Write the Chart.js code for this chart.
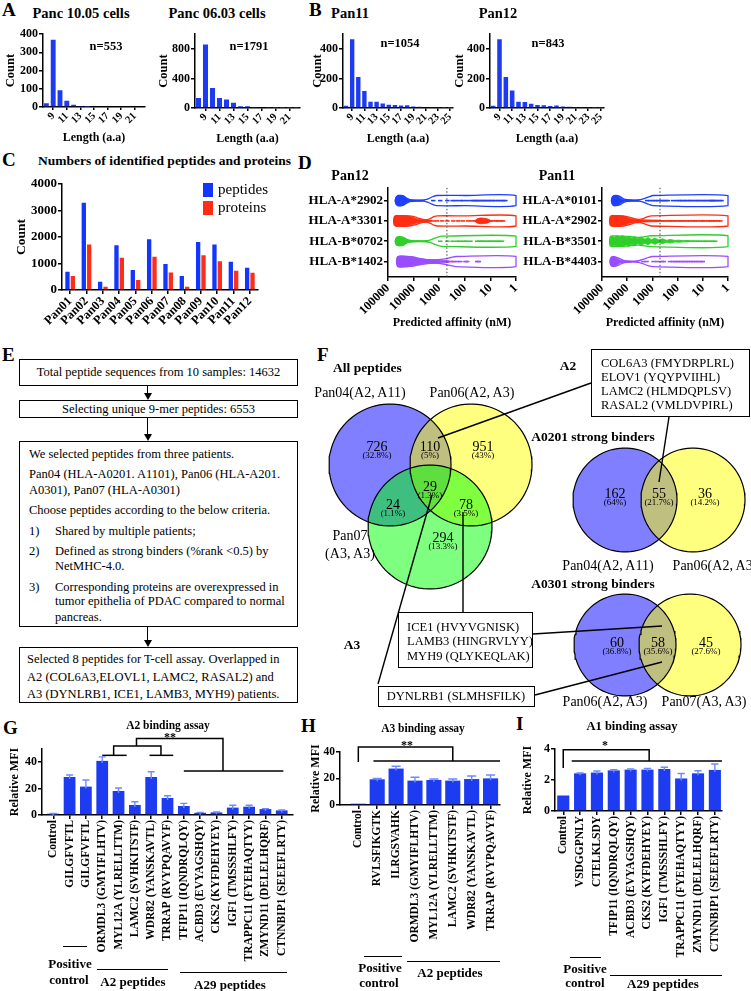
<!DOCTYPE html>
<html><head><meta charset="utf-8">
<script src="https://cdn.jsdelivr.net/npm/chart.js@4.4.1/dist/chart.umd.min.js"></script>
<style>
html,body{margin:0;padding:0;background:#fff;}
#fig{position:relative;width:751px;height:991px;overflow:hidden;font-family:'Liberation Serif','Times New Roman',serif;color:#000;background:#fff;}
.t{position:absolute;white-space:nowrap;line-height:1;}
.box{position:absolute;border:1.3px solid #000;box-sizing:border-box;background:#fff;}
.hl{position:absolute;height:0;border-top:1.6px solid #000;}
.vl{position:absolute;width:0;border-left:1.2px solid #000;}
.ah{position:absolute;width:0;height:0;border-left:4px solid transparent;border-right:4px solid transparent;border-top:7px solid #000;}
canvas{position:absolute;}
</style></head><body><div id="fig"></div>
<script>
// ================= DATA =================
const lengthsA = [8,9,10,11,12,13,14,15,16,17,18,19,20,21,22];
const lengthsB = [8,9,10,11,12,13,14,15,16,17,18,19,20,21,22,23,24,25];
const countsPanc1005 = [20,370,92,35,12,3,1,0,0,0,0,0,0,0,0];
const countsPanc0603 = [135,860,272,135,115,70,25,25,15,10,8,5,5,3,2];
const countsPan11 = [15,465,210,115,42,42,30,22,20,17,18,10,8,5,4,3,2,2];
const countsPan12 = [15,465,210,118,42,40,28,20,18,14,17,10,8,4,3,3,2,2];
const nValues = ['n=553','n=1791','n=1054','n=843'];

const samples = ['Pan01','Pan02','Pan03','Pan04','Pan05','Pan06','Pan07','Pan08','Pan09','Pan10','Pan11','Pan12'];
const peptideCounts = [686,3285,311,1690,749,1910,975,524,1810,1710,1060,835];
const proteinCounts = [524,1714,124,1210,375,1250,663,124,1310,1085,724,648];

const pan12Alleles = ['HLA-A*2902','HLA-A*3301','HLA-B*0702','HLA-B*1402'];
const pan11Alleles = ['HLA-A*0101','HLA-A*2902','HLA-B*3501','HLA-B*4403'];
const pan12Outline = [
  [[52000,0.04],[47000,0.2],[38000,0.25],[26000,0.24],[20000,0.15],[14000,0.05],[7000,0.025],[4000,0.03],[2700,0.09],[1800,0.19],[1250,0.25],[100,0.25],[1,0.25]],
  [[60000,0.05],[55000,0.23],[40000,0.26],[15000,0.25],[9000,0.2],[6000,0.12],[4000,0.06],[3000,0.06],[2200,0.12],[1600,0.21],[1200,0.25],[100,0.25],[1,0.25]],
  [[52000,0.04],[47000,0.18],[38000,0.22],[26000,0.2],[19000,0.1],[14000,0.04],[7000,0.02],[3500,0.025],[2300,0.06],[1500,0.15],[1000,0.23],[800,0.25],[1,0.25]],
  [[46000,0.05],[42000,0.24],[30000,0.26],[12000,0.24],[6000,0.16],[3000,0.1],[1500,0.08],[700,0.12],[350,0.2],[220,0.25],[1,0.25]]
];
const pan12Dense = [
  [[52000,0.03],[48000,0.18],[42000,0.26],[30000,0.25],[23000,0.2],[19000,0.1],[14000,0.04],[8000,0.02],[4500,0.015]],
  [[60000,0.04],[56000,0.2],[48000,0.27],[30000,0.26],[18000,0.24],[11000,0.18],[7500,0.1],[5000,0.07],[3000,0.05],[2000,0.03]],
  [[52000,0.03],[48000,0.16],[40000,0.21],[28000,0.19],[20000,0.1],[15000,0.04],[9000,0.02],[5000,0.015]],
  [[46000,0.04],[43000,0.22],[35000,0.27],[20000,0.26],[12000,0.22],[7500,0.16],[5000,0.12],[3000,0.1],[1800,0.09],[1000,0.07],[600,0.05],[400,0.03]]
];
const pan12Cluster = [null, [[40,0.02],[33,0.1],[25,0.14],[18,0.13],[13,0.1],[10,0.03]], null, null];
const pan12Points = [
  [1700,910,480,300,220,150,115,80,55,45,38,32,27,22,18,15,12,10,8,6.5,5,4,3.2,2.6],
  [2700,1700,1200,760,480,280,180,120,75,52,38,30,22,17,13,10,8,6,5,4,3.2],
  [910,480,300,200,150,110,85,60,33,27,22,18,14,11,9,7,5.5,4.5,3.5],
  [480,320,280,200,150,95,80,33,28]
];
const pan11Outline = [
  [[42000,0.04],[38000,0.2],[28000,0.25],[19000,0.2],[13000,0.07],[7000,0.03],[3800,0.03],[2300,0.08],[1400,0.18],[950,0.25],[1,0.25]],
  [[50000,0.05],[46000,0.23],[35000,0.26],[14000,0.25],[8000,0.18],[5000,0.1],[3200,0.08],[2200,0.13],[1500,0.21],[1100,0.25],[1,0.25]],
  [[50000,0.05],[46000,0.25],[30000,0.26],[10000,0.24],[5000,0.2],[2800,0.2],[1700,0.24],[1200,0.27],[1,0.27]],
  [[48000,0.04],[44000,0.2],[32000,0.24],[21000,0.16],[13000,0.05],[6000,0.025],[3500,0.04],[2200,0.12],[1400,0.21],[1000,0.25],[1,0.25]]
];
const pan11Dense = [
  [[42000,0.03],[39000,0.18],[33000,0.25],[24000,0.23],[18000,0.12],[13000,0.04],[7000,0.02],[3500,0.015]],
  [[50000,0.04],[46000,0.2],[38000,0.27],[20000,0.25],[12000,0.2],[8000,0.12],[5000,0.08],[3000,0.06],[1800,0.05],[1000,0.04],[550,0.03]],
  [[50000,0.05],[46000,0.2],[40000,0.26],[32000,0.2],[26000,0.27],[20000,0.22],[15000,0.27],[11000,0.18],[8500,0.25],[6500,0.15],[5000,0.22],[3800,0.12],[2800,0.2],[2000,0.1],[1500,0.18],[1100,0.08],[800,0.15],[550,0.06],[400,0.12],[280,0.05],[190,0.09],[130,0.04],[90,0.05],[60,0.03],[35,0.02]],
  [[48000,0.03],[45000,0.18],[38000,0.24],[28000,0.2],[20000,0.08],[13000,0.03],[7000,0.015]]
];
const pan11Cluster = [null, null, null, null];
const pan11Points = [
  [1620,1230,940,750,590,450,380,300,240,150,105,81,65,51,41,32,26,20,16,13,10,8.3,6.5,5.2,4.5,4,3.4,2.8,2.2,1.8],
  [500,400,320,250,200,160,130,100,80,65,50,40,32,25,20,16,12,10,8,6,5,4,3.2,2.5,2],
  [45,38,30,25,20,16,13,10,8,6.5,5,4,3.2],
  [2300,1700,900,620,420,350,200,150,120,95,75,60,48,38,30,24,19,15,12,10]
];
const affinityTicks = [1,10,100,1000,10000,100000];
const strongBinderCutoff = 500;

const allPeptideCounts = ['726','110','951','24','29','78','294'];
const allPeptidePct = ['32.8%','5%','43%','1.1%','1.3%','3.5%','13.3%'];
const a0201Counts = ['162','55','36'];
const a0201Pct = ['64%','21.7%','14.2%'];
const a0301Counts = ['60','58','45'];
const a0301Pct = ['36.8%','35.6%','27.6%'];

const a2Labels = ['Control','GILGFVFTL','GILGFVFTL','ORMDL3 (GMYIFLHTV)','MYL12A (YLRELLTTM)','LAMC2 (SVHKITSTF)','WDR82 (YANSKAVTL)','TRRAP (RVYPQAVYF)','TFIP11 (IQNDRQLQY)','ACBD3 (EVYAGSHQY)','CKS2 (KYFDEHYEY)','IGF1 (TMSSSHLFY)','TRAPPC11 (FYEHAQTYY)','ZMYND11 (DELELHQRF)','CTNNBIP1 (SEEEFLRTY)'];
const a2Mean = [1.0,28.8,21.5,41,18.2,7.6,28.8,12.9,6.8,1.7,2.0,5.6,6.3,4.5,3.5];
const a2SD   = [0.1,1.5,5,3,2.2,2.4,4,1.7,2,0.3,0.4,1.8,1.1,0.3,0.3];
const a3Labels = ['Control','RVLSFIKGTK','ILRGSVAHK','ORMDL3 (GMYIFLHTV)','MYL12A (YLRELLTTM)','LAMC2 (SVHKITSTF)','WDR82 (YANSKAVTL)','TRRAP (RVYPQAVYF)'];
const a3Mean = [1.0,19.4,27.5,18.4,18.9,18.4,19.6,20.1];
const a3SD   = [0,0.7,1.7,2.5,0.7,1.2,2.3,2.5];
const a1Labels = ['Control','VSDGGPNLY','CTELKLSDY','TFIP11 (IQNDRQLQY)','ACBD3 (EVYAGSHQY)','CKS2 (KYFDEHYEY)','IGF1 (TMSSSHLFY)','TRAPPC11 (FYEHAQTYY)','ZMYND11 (DELELHQRF)','CTNNBIP1 (SEEEFLRTY)'];
const a1Mean = [1.0,2.43,2.48,2.62,2.67,2.67,2.71,2.1,2.43,2.65];
const a1SD   = [0,0.03,0.1,0.05,0.05,0.08,0.11,0.32,0.17,0.38];

// ================= STYLE / LAYOUT =================
const BLUE = '#1d3cf2', ERRC = '#6d8bff', PEP = '#1236ff', PRO = '#ff2d17';
const VCOL = ['#1f3fff','#ff2d12','#2fcf2a','#9a4dff'];
const FAM = 'Liberation Serif';
const fig = document.getElementById('fig');
Chart.defaults.font.family = FAM;
Chart.defaults.font.weight = 'bold';
Chart.defaults.color = '#000';
Chart.defaults.animation = false;
Chart.defaults.events = [];
Chart.defaults.plugins.legend.display = false;
Chart.defaults.plugins.tooltip.enabled = false;
const FN = s => ({family:FAM, size:s, weight:'bold', style:'normal'});

function T(s, x, base, size, o) {
  o = o || {};
  const d = document.createElement('div');
  d.className = 't'; d.textContent = s;
  d.style.fontSize = size + 'px';
  d.style.fontWeight = o.b ? 'bold' : 'normal';
  d.style.top = (base - 0.8375 * size) + 'px';
  const al = o.a || 'l';
  if (al === 'c') { d.style.left = x + 'px'; d.style.transform = 'translateX(-50%)'; }
  else if (al === 'r') { d.style.right = (751 - x) + 'px'; }
  else d.style.left = x + 'px';
  fig.appendChild(d); return d;
}
function TC(s, x, cy, size, o) { o = Object.assign({a:'c'}, o || {}); return T(s, x, cy + 0.33 * size, size, o); }
function HL(x0, x1, y) { const d = document.createElement('div'); d.className = 'hl'; d.style.left = x0 + 'px'; d.style.width = (x1 - x0) + 'px'; d.style.top = y + 'px'; fig.appendChild(d); }
function BOX(x0, y0, x1, y1) { const d = document.createElement('div'); d.className = 'box'; d.style.left = x0 + 'px'; d.style.top = y0 + 'px'; d.style.width = (x1 - x0) + 'px'; d.style.height = (y1 - y0) + 'px'; fig.appendChild(d); }
function ARROW(x, y0, y1) {
  const l = document.createElement('div'); l.className = 'vl'; l.style.left = (x - 0.6) + 'px'; l.style.top = y0 + 'px'; l.style.height = (y1 - y0 - 6) + 'px'; fig.appendChild(l);
  const h = document.createElement('div'); h.className = 'ah'; h.style.left = (x - 4) + 'px'; h.style.top = (y1 - 7) + 'px'; fig.appendChild(h);
}
function canvasFor(area, yW, xH, padT, padR) {
  const left = area[0] - yW, top = area[1] - padT;
  const w = Math.round(area[2] + padR - left), h = Math.round(area[3] + xH - top);
  const c = document.createElement('canvas');
  c.width = w; c.height = h;
  c.style.cssText = 'left:' + left + 'px;top:' + top + 'px;width:' + w + 'px;height:' + h + 'px;';
  fig.appendChild(c); return c;
}
function opts(padT, padR, scales, extra) {
  return Object.assign({responsive:false, maintainAspectRatio:false, devicePixelRatio:1, animation:false,
    layout:{padding:{left:0, top:padT, right:padR, bottom:0}},
    plugins:{legend:{display:false}, tooltip:{enabled:false}}, scales:scales}, extra || {});
}
function grid(color) { return {display:true, drawOnChartArea:false, drawTicks:true, tickLength:4, color:color || '#000', lineWidth:1.5, offset:false}; }
const border = {display:true, color:'#000', width:1.5};
const plain = v => String(v);

// ================= PANEL LETTERS =================
T('A', 2, 16, 19, {b:1}); T('B', 309, 16, 19, {b:1}); T('C', 2, 166, 19, {b:1}); T('D', 298, 169, 19, {b:1});
T('E', 2, 361, 19, {b:1}); T('F', 317, 361, 19, {b:1}); T('G', 3, 734, 19, {b:1}); T('H', 301, 732, 19, {b:1}); T('I', 516, 730, 19, {b:1});

// ================= A / B histograms =================
function histogram(area, yW, labels, counts, ymax, step) {
  const xH = 38, padT = 8, padR = 6;
  const c = canvasFor(area, yW, xH, padT, padR);
  const shown = i => (labels[i] % 2 === 1);
  return new Chart(c, {type:'bar',
    data:{labels:labels.map(String), datasets:[{data:counts, backgroundColor:BLUE, barPercentage:0.72, categoryPercentage:1}]},
    options:opts(padT, padR, {
      x:{border:border, grid:Object.assign(grid(), {tickLength:3, color:ctx => shown(ctx.index) ? '#000' : 'rgba(0,0,0,0)'}),
         ticks:{autoSkip:false, minRotation:45, maxRotation:45, padding:0, font:FN(10.5), callback:(v,i) => shown(i) ? String(labels[i]) : ''},
         title:{display:true, text:'Length (a.a)', font:FN(12), padding:0}, afterFit:s => { s.height = xH; }},
      y:{min:0, max:ymax, border:border, grid:grid(), ticks:{stepSize:step, font:FN(12), padding:1, callback:plain},
         title:{display:true, text:'Count', font:FN(12.5), padding:0}, afterFit:s => { s.width = yW; }}
    })});
}
histogram([43,34,145,107], 40, lengthsA, countsPanc1005, 400, 100);
histogram([195,34,300,108], 39, lengthsA, countsPanc0603, 1000, 200);
histogram([343,34,453,108], 33, lengthsB, countsPan11, 500, 100);
histogram([490,34,604,108], 38, lengthsB, countsPan12, 500, 100);
T('Panc 10.05 cells', 81, 18.5, 14.5, {b:1, a:'c'});
T('Panc 06.03 cells', 217, 18.5, 14.5, {b:1, a:'c'});
T('Pan11', 350, 18.5, 14.5, {b:1, a:'c'});
T('Pan12', 498, 18.5, 14.5, {b:1, a:'c'});
TC(nValues[0], 106, 46, 12.5, {b:1}); TC(nValues[1], 249, 46, 12.5, {b:1});
TC(nValues[2], 400, 43, 12.5, {b:1}); TC(nValues[3], 548, 43, 12.5, {b:1});

// ================= C =================
(function(){
  const area = [62,183,258,290], yW = 49, xH = 45, padT = 8, padR = 6;
  const c = canvasFor(area, yW, xH, padT, padR);
  new Chart(c, {type:'bar',
    data:{labels:samples, datasets:[
      {data:peptideCounts, backgroundColor:PEP, categoryPercentage:0.66, barPercentage:0.8},
      {data:proteinCounts, backgroundColor:PRO, categoryPercentage:0.66, barPercentage:0.8}]},
    options:opts(padT, padR, {
      x:{border:border, grid:grid(), ticks:{autoSkip:false, minRotation:45, maxRotation:45, padding:0, font:FN(12.5)}, afterFit:s => { s.height = xH; }},
      y:{min:0, max:4000, border:border, grid:grid(), ticks:{stepSize:1000, font:FN(13), padding:1, callback:plain},
         title:{display:true, text:'Count', font:FN(13.5), padding:0}, afterFit:s => { s.width = yW; }}
    })});
  T('Numbers of identified peptides and proteins', 38, 165, 13.5, {b:1});
  const sq = (y, col) => { const d = document.createElement('div'); d.style.cssText = 'position:absolute;left:203px;top:' + y + 'px;width:10px;height:14px;background:' + col; fig.appendChild(d); };
  sq(183, PEP); sq(201, PRO);
  TC('peptides', 218, 190, 15, {a:'l'}); TC('proteins', 218, 208, 15, {a:'l'});
})();

// ================= D violins =================
function poly(profile, row) {
  const top = profile.map(p => ({x:p[0], y:row - p[1]}));
  const bot = profile.slice().reverse().map(p => ({x:p[0], y:row + p[1]}));
  return top.concat(bot, [top[0]]);
}
function violin(area, alleles, outlines, dense, cluster, points, title, tx) {
  const yW = 100, xH = 53, padT = 6, padR = 6;
  const c = canvasFor(area, yW, xH, padT, padR);
  const ds = [];
  ds.push({data:[{x:strongBinderCutoff, y:-0.63}, {x:strongBinderCutoff, y:3.76}], showLine:true, borderColor:'#444', borderWidth:1, borderDash:[1.5,2], pointRadius:0});
  alleles.forEach((al, r) => {
    const col = VCOL[r];
    ds.push({data:points[r].map(a => ({x:a, y:r})), showLine:false, pointStyle:'line', pointRadius:2.2, borderColor:col, borderWidth:1.6, backgroundColor:col});
    ds.push({data:poly(outlines[r], r), showLine:true, borderColor:col, borderWidth:1.3, pointRadius:0, fill:false, tension:0.25});
    ds.push({data:poly(dense[r], r), showLine:true, borderColor:col, backgroundColor:col, borderWidth:1, pointRadius:0, fill:'shape', tension:0.2});
    if (cluster[r]) ds.push({data:poly(cluster[r], r), showLine:true, borderColor:col, backgroundColor:col, borderWidth:1, pointRadius:0, fill:'shape', tension:0.2});
  });
  T(title, tx, 181, 14, {b:1, a:'c'});
  return new Chart(c, {type:'scatter', data:{datasets:ds},
    options:opts(padT, padR, {
      x:{type:'logarithmic', reverse:true, min:1, max:100000, border:border, grid:grid(),
         afterBuildTicks:s => { s.ticks = affinityTicks.map(v => ({value:v})); },
         ticks:{autoSkip:false, minRotation:45, maxRotation:45, padding:0, font:FN(12.5), callback:plain},
         title:{display:true, text:'Predicted affinity (nM)', font:FN(12), padding:0}, afterFit:s => { s.height = xH; }},
      y:{type:'linear', reverse:true, min:-0.63, max:3.76, border:border, grid:grid(),
         afterBuildTicks:s => { s.ticks = [0,1,2,3].map(v => ({value:v})); },
         ticks:{autoSkip:false, font:FN(13), padding:1, callback:v => alleles[v]}, afterFit:s => { s.width = yW; }}
    }, {clip:false})});
}
violin([388,185,516,277], pan12Alleles, pan12Outline, pan12Dense, pan12Cluster, pan12Points, 'Pan12', 350);
violin([602,185,728,277], pan11Alleles, pan11Outline, pan11Dense, pan11Cluster, pan11Points, 'Pan11', 557);

// ================= E flowchart =================
(function(){
  const fs = 12.5;
  BOX(19,359,298,386); T('Total peptide sequences from 10 samples: 14632', 158.5, 376, fs, {a:'c'});
  ARROW(148, 386, 400);
  BOX(19,400,298,418); T('Selecting  unique 9-mer peptides: 6553', 158.5, 413.5, fs, {a:'c'});
  ARROW(148, 418, 441);
  BOX(19,441,298,627);
  const L = 29, I = 55;
  T('We selected peptides from three patients.', L, 458, fs);
  T('Pan04 (HLA-A0201. A1101), Pan06 (HLA-A201.', L, 478, fs);
  T('A0301), Pan07 (HLA-A0301)', L, 494, fs);
  T('Choose peptides according to the below criteria.', L, 514, fs);
  T('1)', L, 535, fs); T('Shared by multiple patients;', I, 535, fs);
  T('2)', L, 555, fs); T('Defined as strong binders (%rank <0.5) by', I, 555, fs);
  T('NetMHC-4.0.', I, 570, fs);
  T('3)', L, 591, fs); T('Corresponding proteins are overexpressed in', I, 591, fs);
  T('tumor epithelia of PDAC compared to normal', I, 605, fs);
  T('pancreas.', I, 621, fs);
  ARROW(148, 627, 647);
  BOX(19,647,298,703);
  T('Selected 8 peptides for T-cell assay. Overlapped in', 27, 663, fs);
  T('A2 (COL6A3,ELOVL1, LAMC2, RASAL2) and', 27, 681, fs);
  T('A3 (DYNLRB1, ICE1, LAMB3, MYH9) patients.', 27, 698, fs);
})();

// ================= F Venn =================
(function(){
  const c = document.createElement('canvas');
  c.width = 433; c.height = 390; c.style.cssText = 'left:318px;top:340px;width:433px;height:390px;';
  fig.appendChild(c);
  const circles = [
    {cx:390, cy:465, r:61, col:'rgba(0,0,255,0.5)'}, {cx:471, cy:465, r:61, col:'rgba(255,255,0,0.5)'}, {cx:430, cy:527, r:62, col:'rgba(0,255,0,0.5)'},
    {cx:625, cy:500, r:52, col:'rgba(0,0,255,0.5)'}, {cx:693, cy:500, r:52, col:'rgba(255,255,0,0.5)'},
    {cx:625, cy:645, r:51, col:'rgba(0,0,255,0.5)'}, {cx:690, cy:645, r:51, col:'rgba(255,255,0,0.5)'}
  ];
  const ring = cc => { const p = []; for (let k = 0; k <= 90; k++) { const t = k / 90 * 2 * Math.PI; p.push({x:cc.cx + cc.r * Math.cos(t), y:cc.cy + cc.r * Math.sin(t)}); } return p; };
  const callouts = [
    [[438,438],[591,383]], [[669,417],[659,482]], [[463,512],[463,612]], [[533,634],[662,626]], [[432,495],[378,684]], [[535,695],[662,662]]
  ];
  const ds = [];
  circles.forEach((cc, i) => ds.push({data:ring(cc), showLine:true, pointRadius:0, borderWidth:0, borderColor:'rgba(0,0,0,0)', backgroundColor:cc.col, fill:'shape', order:100 - i}));
  circles.forEach(cc => ds.push({data:ring(cc), showLine:true, pointRadius:0, borderWidth:1.2, borderColor:'#000', fill:false, order:20}));
  callouts.forEach(l => ds.push({data:l.map(p => ({x:p[0], y:p[1]})), showLine:true, pointRadius:0, borderWidth:1.4, borderColor:'#000', fill:false, order:10}));
  new Chart(c, {type:'scatter', data:{datasets:ds}, options:{responsive:false, maintainAspectRatio:false, devicePixelRatio:1, animation:false,
    layout:{padding:0}, plugins:{legend:{display:false}, tooltip:{enabled:false}},
    scales:{x:{type:'linear', display:false, min:318, max:751}, y:{type:'linear', display:false, min:340, max:730, reverse:true}}}});
  const reg = (n, p, x, y) => { TC(n, x, y, 14); TC('(' + p + ')', x, y + 9, 9); };
  const pos1 = [[377,447],[430,447],[483,447],[393,505],[430,487],[466,505],[443,538]];
  allPeptideCounts.forEach((n, i) => reg(n, allPeptidePct[i], pos1[i][0], pos1[i][1]));
  const pos2 = [[615,494],[659,494],[705,494]];
  a0201Counts.forEach((n, i) => reg(n, a0201Pct[i], pos2[i][0], pos2[i][1]));
  const pos3 = [[617,643],[658,643],[706,643]];
  a0301Counts.forEach((n, i) => reg(n, a0301Pct[i], pos3[i][0], pos3[i][1]));
  T('All peptides', 333, 372, 13.5, {b:1});
  TC('Pan04(A2, A11)', 360, 393, 14); TC('Pan06(A2, A3)', 472, 393, 14);
  TC('Pan07', 350, 536, 14); TC('(A3, A3)', 350, 554, 14);
  TC('A0201 strong binders', 593, 437, 13.5, {b:1});
  TC('Pan04(A2, A11)', 608, 566, 14); TC('Pan06(A2, A3)', 715, 566, 14);
  TC('A0301 strong binders', 593, 584, 13.5, {b:1});
  TC('Pan06(A2, A3)', 605, 702, 14); TC('Pan07(A3, A3)', 704, 702, 14);
  TC('A2', 568, 366, 13.5, {b:1}); TC('A3', 352, 645, 13.5, {b:1});
  BOX(591,349,750,417);
  ['COL6A3 (FMYDRPLRL)','ELOV1 (YQYPVIIHL)','LAMC2 (HLMDQPLSV)','RASAL2 (VMLDVPIRL)'].forEach((s, i) => TC(s, 601, 363 + 14 * i, 12.5, {a:'l'}));
  BOX(398,612,533,668);
  ['ICE1 (HVYVGNISK)','LAMB3 (HINGRVLYY)','MYH9 (QLYKEQLAK)'].forEach((s, i) => TC(s, 407, 627 + 14.5 * i, 12.5, {a:'l'}));
  BOX(378,686,535,707);
  TC('DYNLRB1 (SLMHSFILK)', 456, 696.5, 12.5);
})();

// ================= G / H / I binding assays =================
function assay(area, yW, labels, mean, sd, xmin, xmax, ymax, step, brackets, yFont, barPct) {
  const xH = 160, padT = 28, padR = 8;
  const c = canvasFor(area, yW, xH, padT, padR);
  const errPlugin = {id:'err', afterDatasetsDraw(ch) {
    const meta = ch.getDatasetMeta(0), y = ch.scales.y, ctx = ch.ctx;
    ctx.save(); ctx.strokeStyle = ERRC; ctx.lineWidth = 1.4;
    meta.data.forEach((bar, i) => {
      if (!sd[i]) return;
      const y0 = y.getPixelForValue(mean[i]), y1 = y.getPixelForValue(mean[i] + sd[i]), hw = bar.width * 0.3;
      ctx.beginPath(); ctx.moveTo(bar.x, y0 + 2); ctx.lineTo(bar.x, y1); ctx.moveTo(bar.x - hw, y1); ctx.lineTo(bar.x + hw, y1); ctx.stroke();
    });
    ctx.restore();
  }};
  const brPlugin = {id:'brackets', afterDraw(ch) {
    const x = ch.scales.x, y = ch.scales.y, ctx = ch.ctx;
    ctx.save(); ctx.strokeStyle = '#000'; ctx.lineWidth = 1.5;
    brackets.forEach(line => { ctx.beginPath(); line.forEach((p, k) => { const px = x.getPixelForValue(p[0]), py = y.getPixelForValue(p[1]); if (k) ctx.lineTo(px, py); else ctx.moveTo(px, py); }); ctx.stroke(); });
    ctx.restore();
  }};
  return new Chart(c, {type:'bar',
    data:{datasets:[{data:mean.map((v, i) => ({x:i, y:v})), backgroundColor:BLUE, categoryPercentage:1, barPercentage:barPct}]},
    options:opts(padT, padR, {
      x:{type:'linear', min:xmin, max:xmax, offset:false, border:border, grid:grid(),
         afterBuildTicks:s => { s.ticks = labels.map((_, i) => ({value:i})); },
         ticks:{autoSkip:false, minRotation:90, maxRotation:90, padding:1, font:FN(11.5), callback:v => labels[v]},
         afterFit:s => { s.height = xH; }},
      y:{min:0, max:ymax, border:border, grid:grid(), ticks:{stepSize:step, font:FN(yFont), padding:1, callback:plain},
         title:{display:true, text:'Relative MFI', font:FN(12), padding:0}, afterFit:s => { s.width = yW; }}
    }), plugins:[errPlugin, brPlugin]});
}
assay([42,749,293,815], 34, a2Labels, a2Mean, a2SD, -0.69, 14.69, 50, 10,
  [[[3,45.2],[4.5,45.2]], [[5.9,45.2],[7.35,45.2]], [[3.7,45.2],[3.7,52.3],[6.6,52.3],[6.6,45.2]], [[5.1,52.3],[5.1,58],[10.4,58],[10.4,33.3]], [[8,33.3],[14.1,33.3]]], 12, 0.72);
assay([340,752,500,805], 31, a3Labels, a3Mean, a3SD, -0.97, 7.5, 40, 10,
  [[[0,32.5],[0,43.8],[5,43.8],[5,33.2]], [[0.8,33.2],[7.5,33.2]]], 11.5, 0.8);
assay([555,749,722,811], 34, a1Labels, a1Mean, a1SD, -0.49, 9.42, 4, 1,
  [[[0,2.77],[0,3.95],[5.1,3.95],[5.1,3.23]], [[0.5,3.23],[9.42,3.23]]], 12, 0.72);
T('A2 binding assay', 168, 730, 11.5, {b:1, a:'c'});
T('A3 binding assay', 423, 733, 11.5, {b:1, a:'c'});
T('A1 binding assay', 632, 730, 12.5, {b:1, a:'c'});
TC('**', 170, 737, 12, {b:1}); TC('**', 407, 745, 12, {b:1}); TC('*', 605, 745, 12, {b:1});
HL(63,87,946); TC('Positive', 70, 964, 13, {b:1}); TC('control', 69, 980, 13, {b:1});
HL(97,168,969); TC('A2 peptides', 133, 982, 13, {b:1});
HL(180,287,972); TC('A29 peptides', 230, 985, 13, {b:1});
HL(364,402,956); TC('Positive', 380, 968, 13, {b:1}); TC('control', 379, 983, 13, {b:1});
HL(407,500,961); TC('A2 peptides', 450, 973, 13, {b:1});
HL(570,601,957); TC('Positive', 585, 969, 13, {b:1}); TC('control', 585, 983, 13, {b:1});
HL(610,722,975); TC('A29 peptides', 663, 984, 13, {b:1});
</script></body></html>
